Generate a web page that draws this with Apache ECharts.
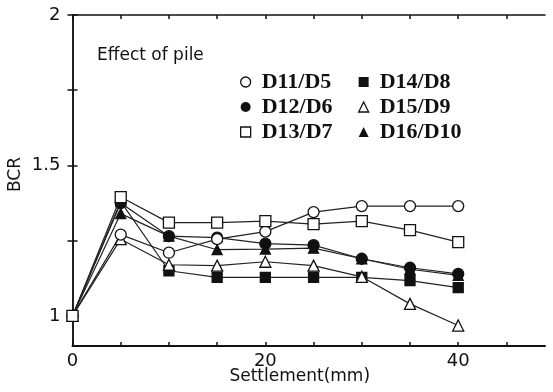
<!DOCTYPE html>
<html>
<head>
<meta charset="utf-8">
<script src="https://cdn.jsdelivr.net/npm/echarts@6/dist/echarts.min.js"></script>
<style>
	html, body { margin: 0; padding: 0; background: #fff; }
	#bcrChart { width: 553px; height: 392px; }
</style>
</head>
<body>
<div id="bcrChart"></div>
<script>
	// settlement (mm) for every reading
	var settlement = [0, 5, 10, 15, 20, 25, 30, 35, 40];

	// BCR values
	var d11d5 = [1.0, 1.27, 1.21, 1.255, 1.28, 1.345, 1.365, 1.365, 1.365];
	var d12d6 = [1.0, 1.375, 1.265, 1.26, 1.24, 1.235, 1.19, 1.16, 1.14];
	var d13d7 = [1.0, 1.395, 1.31, 1.31, 1.315, 1.305, 1.315, 1.285, 1.245];
	var d14d8 = [1.0, 1.38, 1.15, 1.128, 1.128, 1.128, 1.128, 1.117, 1.094];
	var d15d9 = [1.0, 1.255, 1.17, 1.167, 1.18, 1.167, 1.13, 1.04, 0.968];
	var d16d10 = [1.0, 1.34, 1.265, 1.22, 1.222, 1.225, 1.19, 1.155, 1.135];

	// ticks and labels
	var xTicks = [0, 5, 10, 15, 20, 25, 30, 35, 40, 45];
	var xLabels = [0, 20, 40];
	var yTicks = [1, 1.25, 1.5, 1.75, 2];
	var yLabels = [1, 1.5, 2];

	function pairs(values) {
		return values.map(function(v, i) {
			return [settlement[i], v];
		});
	}

	function makeSeries(name, values, symbol, hollow, size) {
		return {
			name: name,
			type: 'line',
			data: pairs(values),
			symbol: symbol,
			symbolSize: size,
			showSymbol: true,
			lineStyle: { color: '#222', width: 1.2 },
			itemStyle: {
				color: hollow ? '#fff' : '#111',
				borderColor: '#111',
				borderWidth: 1.3
			},
			z: hollow ? 3 : 2
		};
	}

	function legendItem(name, icon, hollow) {
		return {
			name: name,
			icon: icon,
			itemStyle: {
				color: hollow ? '#fff' : '#111',
				borderColor: '#111',
				borderWidth: hollow ? 1.3 : 0
			}
		};
	}

	var sansFont = 'DejaVu Sans';
	var legendText = {
		fontFamily: 'Liberation Serif',
		fontWeight: 'bold',
		fontSize: 22,
		color: '#111',
		padding: [0, 0, 0, 6]
	};

	var myChart = echarts.init(document.getElementById('bcrChart'));
	var option = {
		animation: false,
		backgroundColor: '#fff',
		grid: { left: 72.5, right: 8, top: 15, bottom: 46, outerBoundsMode: 'none' },
		xAxis: [{
			type: 'value',
			position: 'bottom',
			min: 0,
			max: 49,
			name: 'Settlement(mm)',
			nameLocation: 'middle',
			nameGap: 22,
			nameMoveOverlap: false,
			nameTextStyle: { fontFamily: sansFont, fontSize: 17, color: '#111', padding: [0, 18, 0, 0] },
			axisLine: { lineStyle: { color: '#111', width: 2 } },
			axisTick: { inside: true, length: 4, customValues: xTicks, lineStyle: { color: '#111', width: 1.5 } },
			axisLabel: { customValues: xLabels, fontFamily: sansFont, fontSize: 18, color: '#111', margin: 6 },
			splitLine: { show: false }
		}, {
			type: 'value',
			position: 'top',
			min: 0,
			max: 49,
			axisLine: { lineStyle: { color: '#111', width: 1.5 } },
			axisTick: { inside: true, length: 4, customValues: xTicks, lineStyle: { color: '#111', width: 1.5 } },
			axisLabel: { show: false },
			splitLine: { show: false }
		}],
		yAxis: [{
			type: 'value',
			position: 'left',
			min: 0.9,
			max: 2,
			name: 'BCR',
			nameLocation: 'middle',
			nameGap: 48,
			nameMoveOverlap: false,
			nameTextStyle: { fontFamily: sansFont, fontSize: 17, color: '#111', padding: [0, 0, 0, 12] },
			axisLine: { lineStyle: { color: '#111', width: 1.5 } },
			axisTick: { inside: true, length: 5, customValues: yTicks, lineStyle: { color: '#111', width: 1.5 } },
			axisLabel: { customValues: yLabels, fontFamily: sansFont, fontSize: 18, color: '#111', margin: 12 },
			splitLine: { show: false }
		}, {
			type: 'value',
			position: 'right',
			min: 0.9,
			max: 2,
			axisLine: { lineStyle: { color: '#111', width: 1.5 } },
			axisTick: { inside: true, length: 5, customValues: yTicks, lineStyle: { color: '#111', width: 1.5 } },
			axisLabel: { show: false },
			splitLine: { show: false }
		}],
		legend: [{
			orient: 'vertical',
			left: 235,
			top: 66,
			itemWidth: 10,
			itemHeight: 10,
			itemGap: 3,
			textStyle: legendText,
			data: [
				legendItem('D11/D5', 'circle', true),
				legendItem('D12/D6', 'circle', false),
				legendItem('D13/D7', 'rect', true)
			]
		}, {
			orient: 'vertical',
			left: 353,
			top: 66,
			itemWidth: 10,
			itemHeight: 10,
			itemGap: 3,
			textStyle: legendText,
			data: [
				legendItem('D14/D8', 'rect', false),
				legendItem('D15/D9', 'triangle', true),
				legendItem('D16/D10', 'triangle', false)
			]
		}],
		graphic: [{
			type: 'text',
			left: 97,
			top: 47,
			style: {
				text: 'Effect of pile',
				font: '17px "DejaVu Sans"',
				fill: '#111'
			}
		}],
		series: [
			makeSeries('D14/D8', d14d8, 'rect', false, 10),
			makeSeries('D12/D6', d12d6, 'circle', false, 11),
			makeSeries('D16/D10', d16d10, 'triangle', false, 10),
			makeSeries('D15/D9', d15d9, 'triangle', true, 11),
			makeSeries('D11/D5', d11d5, 'circle', true, 11),
			makeSeries('D13/D7', d13d7, 'rect', true, 11)
		]
	};
	myChart.setOption(option);
</script>
</body>
</html>
